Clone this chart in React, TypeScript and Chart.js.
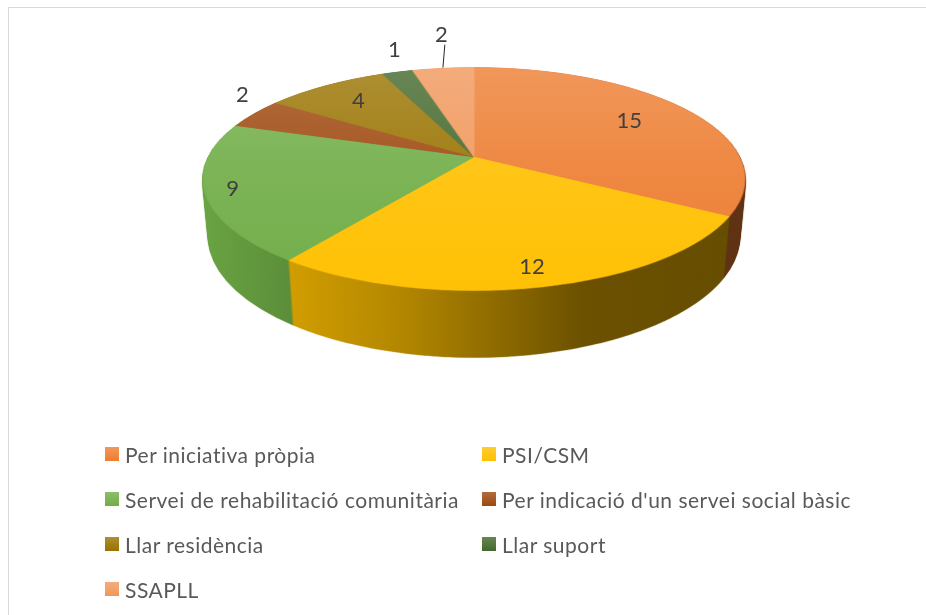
import React, { useEffect, useRef } from 'react';
import { Chart, registerables } from 'chart.js';

Chart.register(...registerables);

// ---------- data ----------
const categories = [
  'Per iniciativa pròpia',
  'PSI/CSM',
  'Servei de rehabilitació comunitària',
  "Per indicació d'un servei social bàsic",
  'Llar residència',
  'Llar suport',
  'SSAPLL',
];
const values = [15, 12, 9, 2, 4, 1, 2];

// ---------- style ----------
const colors = ['#ED7D31', '#FFC000', '#70AD47', '#9E480E', '#997300', '#43682B', '#F1975A'];
const labelInsideRadius = [0.72, 0.87, 0.9, 0, 0.75, 0, 0];
const labelOutsideGap = [0, 0, 0, 22, 0, 22, 33];
const labelLeader = [false, false, false, false, false, false, true];

const FONT = 'Lato, "Liberation Sans", sans-serif';

// 3D view (perspective tilt of the pie disc)
const VIEW = {
  cx: 474,
  cy: 157,
  F: 1241.5,
  D: 4.655,
  tilt: (66.17 * Math.PI) / 180,
  depth: 0.2375,
};
const CT = Math.cos(VIEW.tilt);
const ST = Math.sin(VIEW.tilt);

function project(u: number, v: number, h: number) {
  const Y = v * CT + h * ST;
  const Z = VIEW.D - v * ST + h * CT;
  return { x: VIEW.cx + (VIEW.F * u) / Z, y: VIEW.cy + (VIEW.F * Y) / Z, z: Z };
}
function vAt(y: number, h: number) {
  const dy = y - VIEW.cy;
  return (dy * (VIEW.D + h * CT) - VIEW.F * h * ST) / (VIEW.F * CT + dy * ST);
}

function warpDisc(ctx: CanvasRenderingContext2D, src: HTMLCanvasElement, R0: number, h: number) {
  const yA = project(0, -1, h).y;
  const yB = project(0, 1, h).y;
  for (let yi = Math.floor(yA); yi < Math.ceil(yB); yi++) {
    const y0 = Math.max(yi, yA);
    const y1 = Math.min(yi + 1, yB);
    if (y1 <= y0) continue;
    const v0 = Math.max(-1, vAt(y0, h));
    const v1 = Math.min(1, vAt(y1, h));
    if (v1 <= v0) continue;
    const vm = (v0 + v1) / 2;
    const Z = VIEW.D - vm * ST + h * CT;
    const half = VIEW.F / Z;
    ctx.drawImage(
      src,
      0,
      (v0 + 1) * R0,
      2 * R0,
      Math.max((v1 - v0) * R0, 0.05),
      VIEW.cx - half,
      y0,
      2 * half,
      y1 - y0
    );
  }
}

function silhouetteX() {
  let maxHalf = 0;
  for (let i = -100; i <= 100; i++) {
    const v = i / 100;
    const Z = VIEW.D - v * ST;
    const half = (VIEW.F * Math.sqrt(1 - v * v)) / Z;
    if (half > maxHalf) maxHalf = half;
  }
  return [VIEW.cx - maxHalf, VIEW.cx + maxHalf];
}

const pie3dPlugin = {
  id: 'pie3d',
  afterDatasetsDraw(chart: any) {
    const meta = chart.getDatasetMeta(0);
    if (!meta || !meta.data.length) return;
    const a0 = meta.data[0];
    const mx = a0.x;
    const my = a0.y;
    const R0 = Math.ceil(a0.outerRadius + 1);
    const dpr = chart.currentDevicePixelRatio || 1;
    const W = chart.width;
    const H = chart.height;

    // flat pie drawn by Chart.js
    const src = document.createElement('canvas');
    src.width = 2 * R0;
    src.height = 2 * R0;
    const sctx = src.getContext('2d')!;
    sctx.drawImage(chart.canvas, (mx - R0) * dpr, (my - R0) * dpr, 2 * R0 * dpr, 2 * R0 * dpr, 0, 0, 2 * R0, 2 * R0);

    const ctx: CanvasRenderingContext2D = chart.ctx;
    ctx.save();
    ctx.setTransform(1, 0, 0, 1, 0, 0);
    ctx.clearRect(0, 0, chart.canvas.width, chart.canvas.height);
    ctx.restore();

    const [xL, xR] = silhouetteX();

    // walls
    const wall = document.createElement('canvas');
    wall.width = W;
    wall.height = H;
    const wctx = wall.getContext('2d')!;
    wctx.imageSmoothingQuality = 'high';
    const N = 110;
    for (let i = N; i >= 1; i--) {
      warpDisc(wctx, src, R0, (VIEW.depth * i) / N);
    }
    wctx.globalCompositeOperation = 'source-atop';
    const wg = wctx.createLinearGradient(xL, 0, xR, 0);
    wg.addColorStop(0, 'rgba(0,0,0,0.05)');
    wg.addColorStop(0.16, 'rgba(0,0,0,0.18)');
    wg.addColorStop(0.37, 'rgba(0,0,0,0.30)');
    wg.addColorStop(0.55, 'rgba(0,0,0,0.45)');
    wg.addColorStop(0.7, 'rgba(0,0,0,0.58)');
    wg.addColorStop(1, 'rgba(0,0,0,0.6)');
    wctx.fillStyle = wg;
    wctx.fillRect(0, 0, W, H);

    // top face
    const top = document.createElement('canvas');
    top.width = W;
    top.height = H;
    const tctx = top.getContext('2d')!;
    tctx.imageSmoothingQuality = 'high';
    warpDisc(tctx, src, R0, 0);
    tctx.globalCompositeOperation = 'source-atop';
    const yT = project(0, -1, 0).y;
    const yB = project(0, 1, 0).y;
    const tg = tctx.createLinearGradient(0, yT, 0, yB);
    tg.addColorStop(0, 'rgba(255,255,255,0.2)');
    tg.addColorStop(0.5, 'rgba(255,255,255,0.08)');
    tg.addColorStop(1, 'rgba(255,255,255,0.02)');
    tctx.fillStyle = tg;
    tctx.fillRect(0, 0, W, H);

    ctx.drawImage(wall, 0, 0, W, H);
    ctx.drawImage(top, 0, 0, W, H);

    // data labels
    ctx.save();
    ctx.font = `22px ${FONT}`;
    ctx.fillStyle = '#404040';
    ctx.textAlign = 'center';
    ctx.textBaseline = 'middle';
    meta.data.forEach((arc: any, i: number) => {
      const th = (arc.startAngle + arc.endAngle) / 2;
      const text = String(values[i]);
      if (labelInsideRadius[i] > 0) {
        const r = labelInsideRadius[i];
        const p = project(r * Math.cos(th), r * Math.sin(th), 0);
        ctx.fillText(text, p.x, p.y);
      } else {
        const rim = project(Math.cos(th), Math.sin(th), 0);
        const e = 0.001;
        const pa = project(Math.cos(th - e), Math.sin(th - e), 0);
        const pb = project(Math.cos(th + e), Math.sin(th + e), 0);
        let nx = pb.y - pa.y;
        let ny = -(pb.x - pa.x);
        const len = Math.hypot(nx, ny) || 1;
        nx /= len;
        ny /= len;
        if (nx * (rim.x - VIEW.cx) + ny * (rim.y - VIEW.cy) < 0) {
          nx = -nx;
          ny = -ny;
        }
        const g = labelOutsideGap[i];
        const lx = rim.x + nx * g;
        const ly = rim.y + ny * g;
        ctx.fillText(text, lx, ly);
        if (labelLeader[i]) {
          ctx.save();
          ctx.strokeStyle = '#262626';
          ctx.lineWidth = 1;
          ctx.beginPath();
          ctx.moveTo(lx + nx * -10 + 3, ly + ny * -10);
          ctx.lineTo(rim.x, rim.y);
          ctx.stroke();
          ctx.restore();
        }
      }
    });
    ctx.restore();
  },
};

function lighten(hex: string, a: number) {
  const n = parseInt(hex.slice(1), 16);
  const r = (n >> 16) & 255;
  const g = (n >> 8) & 255;
  const b = n & 255;
  const m = (c: number) => Math.round(c + (255 - c) * a);
  return `rgb(${m(r)},${m(g)},${m(b)})`;
}

export default function App() {
  const ref = useRef<HTMLCanvasElement | null>(null);

  useEffect(() => {
    if (!ref.current) return;
    const chart = new Chart(ref.current, {
      type: 'pie',
      data: {
        labels: categories,
        datasets: [
          {
            data: values,
            backgroundColor: colors,
            borderColor: colors,
            borderWidth: 1,
            hoverOffset: 0,
          },
        ],
      },
      options: {
        responsive: false,
        animation: false,
        events: [],
        layout: { padding: { top: 30, bottom: 30, left: 0, right: 0 } },
        plugins: {
          legend: { display: false },
          tooltip: { enabled: false },
        },
      },
      plugins: [pie3dPlugin],
    } as any);
    return () => chart.destroy();
  }, []);

  const colLeft = [105, 482];
  return (
    <div
      style={{
        position: 'fixed',
        left: 0,
        top: 0,
        width: 926,
        height: 615,
        overflow: 'hidden',
        background: '#ffffff',
      }}
    >
      <div
        style={{
          position: 'absolute',
          left: 8,
          top: 7,
          width: 1000,
          height: 700,
          border: '1px solid #D9D9D9',
          boxSizing: 'border-box',
        }}
      />
      <canvas
        ref={ref}
        width={926}
        height={615}
        style={{ position: 'absolute', left: 0, top: 0, width: 926, height: 615 }}
      />
      {categories.map((c, i) => {
        const col = i % 2;
        const row = Math.floor(i / 2);
        return (
          <div
            key={c}
            style={{
              position: 'absolute',
              left: colLeft[col],
              top: 454 + row * 45 - 13,
              height: 26,
              display: 'flex',
              alignItems: 'center',
              whiteSpace: 'nowrap',
              fontFamily: FONT,
              fontSize: 21,
              letterSpacing: 0.5,
              color: '#595959',
            }}
          >
            <span
              style={{
                display: 'inline-block',
                width: 14,
                height: 14,
                marginRight: 6,
                flex: 'none',
                background: `linear-gradient(to bottom, ${lighten(colors[i], 0.2)}, ${colors[i]})`,
              }}
            />
            <span>{c}</span>
          </div>
        );
      })}
    </div>
  );
}
